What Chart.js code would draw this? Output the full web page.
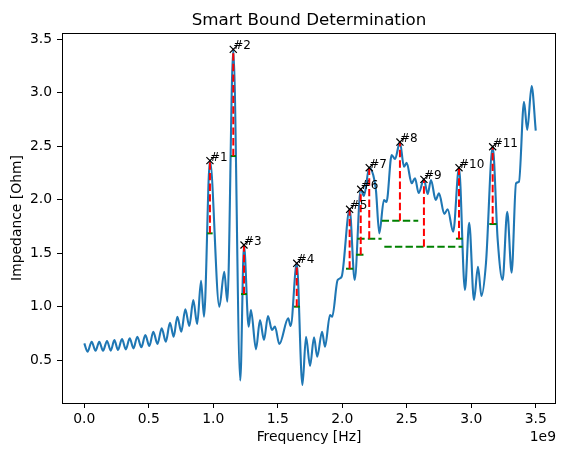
<!DOCTYPE html>
<html>
<head>
<meta charset="utf-8">
<title>Smart Bound Determination</title>
<script src="https://cdn.jsdelivr.net/npm/chart.js@4.4.1/dist/chart.umd.min.js"></script>
<style>
  html, body { margin: 0; padding: 0; background: #fff; }
  #wrap { width: 567px; height: 455px; position: relative; }
</style>
</head>
<body>
<div id="wrap"><canvas id="grafico"></canvas></div>
<script>
// frecuencia en unidades de 1e9 Hz (el eje lleva el offset "1e9")
const frequency = [
  0, 0.025, 0.057, 0.087, 0.116, 0.145, 0.176, 0.205, 0.233, 0.261, 0.292, 0.322,
  0.352, 0.381, 0.411, 0.442, 0.473, 0.504, 0.535, 0.567, 0.600, 0.632, 0.664, 0.693,
  0.721, 0.752, 0.783, 0.814, 0.845, 0.875, 0.905, 0.928, 0.974, 1.047, 1.085, 1.109,
  1.155, 1.209, 1.238, 1.274, 1.292, 1.331, 1.362, 1.393, 1.424, 1.455, 1.478, 1.512,
  1.581, 1.600, 1.647, 1.691, 1.719, 1.750, 1.781, 1.806, 1.843, 1.866, 1.905, 1.922,
  1.964, 1.995, 2.057, 2.096, 2.143, 2.168, 2.209, 2.240, 2.261, 2.287, 2.323, 2.343,
  2.383, 2.409, 2.447, 2.478, 2.499, 2.538, 2.564, 2.592, 2.633, 2.662, 2.688, 2.724,
  2.750, 2.791, 2.817, 2.860, 2.905, 2.951, 2.984, 3.021, 3.052, 3.079, 3.114, 3.166,
  3.205, 3.243, 3.279, 3.313, 3.347, 3.370, 3.409, 3.434, 3.468, 3.5
];
const impedance = [
  0.656, 0.578, 0.671, 0.587, 0.671, 0.587, 0.678, 0.587, 0.687, 0.594, 0.696, 0.600,
  0.703, 0.609, 0.718, 0.619, 0.734, 0.631, 0.765, 0.650, 0.797, 0.671, 0.849, 0.718,
  0.905, 0.765, 0.974, 0.818, 1.061, 0.837, 1.242, 0.905, 2.365, 0.999, 1.326, 1.045,
  3.406, 0.308, 1.576, 0.812, 0.968, 0.600, 0.874, 0.687, 0.912, 0.781, 0.812, 0.650,
  0.890, 0.818, 1.405, 0.266, 0.718, 0.444, 0.712, 0.531, 0.765, 0.624, 0.921, 0.905,
  1.248, 1.279, 1.910, 1.248, 2.097, 2.034, 2.299, 2.231, 2.090, 1.685, 1.997, 1.978,
  2.418, 2.380, 2.539, 2.308, 2.346, 2.153, 2.200, 2.062, 2.190, 2.053, 2.184, 1.997,
  2.059, 1.866, 1.910, 1.700, 2.299, 1.155, 1.784, 1.061, 1.373, 1.099, 1.405, 2.495,
  1.623, 1.248, 1.887, 1.317, 2.153, 2.168, 2.916, 2.652, 3.063, 2.645
];

// picos detectados y su base
const peakLabels = ["#1", "#2", "#3", "#4", "#5", "#6", "#7", "#8", "#9", "#10", "#11"];
const peakFreq = [0.974, 1.155, 1.238, 1.647, 2.057, 2.143, 2.209, 2.447, 2.633, 2.905, 3.166];
const peakImp = [2.365, 3.406, 1.576, 1.405, 1.910, 2.097, 2.299, 2.539, 2.190, 2.299, 2.495];
const baseImp = [1.685, 2.408, 1.117, 0.999, 1.354, 1.485, 1.635, 1.803, 1.560, 1.635, 1.772];
const baseLeft = [0.953, 1.135, 1.215, 1.626, 2.029, 2.107, 2.116, 2.305, 2.326, 2.881, 3.140];
const baseRight = [0.995, 1.176, 1.261, 1.672, 2.085, 2.168, 2.305, 2.589, 2.933, 2.933, 3.197];

const xTicks = [0, 0.5, 1, 1.5, 2, 2.5, 3, 3.5];
const yTicks = [0.5, 1, 1.5, 2, 2.5, 3, 3.5];

const FONT = "'DejaVu Sans', sans-serif";
Chart.defaults.font.family = FONT;
Chart.defaults.font.size = 13.9;
Chart.defaults.color = "#000";

const datasets = [];

// marcadores x
datasets.push({
  data: peakFreq.map((f, i) => ({ x: f, y: peakImp[i] })),
  showLine: false,
  pointStyle: "crossRot",
  pointRadius: 5,
  pointBorderColor: "#000",
  pointBackgroundColor: "#000",
  pointBorderWidth: 1.2,
  order: 0,
});

peakFreq.forEach((f, i) => {
  // prominencia (rojo)
  datasets.push({
    data: [{ x: f, y: baseImp[i] }, { x: f, y: peakImp[i] }],
    showLine: true,
    borderColor: "#ff0000",
    borderWidth: 2,
    borderDash: [7.4, 3.2],
    pointRadius: 0,
    order: 1,
  });
  // base (verde)
  datasets.push({
    data: [{ x: baseLeft[i], y: baseImp[i] }, { x: baseRight[i], y: baseImp[i] }],
    showLine: true,
    borderColor: "#008000",
    borderWidth: 2,
    borderDash: [7.4, 3.2],
    pointRadius: 0,
    order: 2,
  });
});

// curva de impedancia
datasets.push({
  data: frequency.map((f, i) => ({ x: f, y: impedance[i] })),
  showLine: true,
  borderColor: "#1f77b4",
  borderWidth: 2.1,
  borderJoinStyle: "round",
  cubicInterpolationMode: "monotone",
  pointRadius: 0,
  order: 3,
});

const textos = {
  id: "textos",
  afterDatasetsDraw(chart) {
    const { ctx, chartArea: a, scales } = chart;
    ctx.save();
    ctx.fillStyle = "#000";

    ctx.font = "12px " + FONT;
    ctx.textAlign = "left";
    ctx.textBaseline = "alphabetic";
    peakLabels.forEach((t, i) => {
      ctx.fillText(t, scales.x.getPixelForValue(peakFreq[i]), scales.y.getPixelForValue(peakImp[i]));
    });

    // marco
    ctx.strokeStyle = "#000";
    ctx.lineWidth = 1;
    ctx.strokeRect(a.left + 0.5, a.top + 0.5, a.right - a.left - 1, a.bottom - a.top);

    const cx = (a.left + a.right) / 2;
    ctx.textAlign = "center";
    ctx.font = "16.7px " + FONT;
    ctx.fillText("Smart Bound Determination", cx, a.top - 8);

    ctx.font = "13.9px " + FONT;
    ctx.textBaseline = "middle";
    ctx.fillText("Frequency [Hz]", cx, 437.5);
    ctx.textAlign = "right";
    ctx.fillText("1e9", a.right, 437.5);

    ctx.translate(17.5, (a.top + a.bottom) / 2);
    ctx.rotate(-Math.PI / 2);
    ctx.textAlign = "center";
    ctx.fillText("Impedance [Ohm]", 0, 0);
    ctx.restore();
  },
};

new Chart(document.getElementById("grafico"), {
  type: "scatter",
  data: { datasets },
  options: {
    responsive: true,
    maintainAspectRatio: false,
    animation: false,
    events: [],
    layout: { padding: { left: 0, right: 11, top: 33, bottom: 0 } },
    plugins: { legend: { display: false }, tooltip: { enabled: false } },
    scales: {
      x: {
        type: "linear",
        min: -0.173,
        max: 3.657,
        border: { display: false },
        grid: { drawOnChartArea: false, drawTicks: true, tickLength: 5, tickColor: "#000", tickWidth: 1 },
        afterBuildTicks: (scale) => { scale.ticks = xTicks.map((v) => ({ value: v })); },
        afterFit: (scale) => { scale.height = 52; },
        ticks: { padding: 3, maxRotation: 0, callback: (v) => Number(v).toFixed(1) },
      },
      y: {
        type: "linear",
        min: 0.098,
        max: 3.559,
        border: { display: false },
        grid: { drawOnChartArea: false, drawTicks: true, tickLength: 5, tickColor: "#000", tickWidth: 1 },
        afterBuildTicks: (scale) => { scale.ticks = yTicks.map((v) => ({ value: v })); },
        afterFit: (scale) => { scale.width = 62; },
        ticks: { padding: 5, callback: (v) => Number(v).toFixed(1) },
      },
    },
  },
  plugins: [textos],
});
</script>
</body>
</html>
